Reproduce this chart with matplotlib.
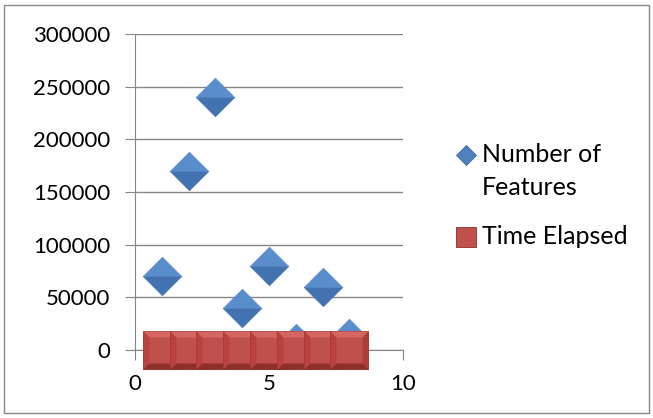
import matplotlib.pyplot as plt
from matplotlib.patches import Rectangle
from matplotlib.lines import Line2D
from matplotlib.path import Path

plt.rcParams['font.family'] = ['Lato', 'DejaVu Sans']

# run index and the two measured series
runs = [1, 2, 3, 4, 5, 6, 7, 8]
num_features = [70000, 170000, 240000, 40000, 80000, 7000, 60000, 11000]
time_elapsed = [60, 120, 180, 90, 110, 40, 100, 50]

blue = '#4F81BD'
red = '#C0504D'
grid = '#868686'

# facet shapes for the bevelled markers (all share the same -1..1 extent)
diamond_top = Path([(-1, 0), (0, 1), (1, 0), (-1, 0)])
diamond_bot = Path([(-1, 0), (0, -1), (1, 0), (-1, 0)])
b = 0.68
sq_top = Path([(-1, 1), (1, 1), (b, b), (-b, b), (-1, 1)])
sq_bot = Path([(-1, -1), (1, -1), (b, -b), (-b, -b), (-1, -1)])
sq_left = Path([(-1, -1), (-1, 1), (-b, b), (-b, -b), (-1, -1)])
sq_right = Path([(1, -1), (1, 1), (b, b), (b, -b), (1, -1)])

fig = plt.figure(figsize=(6.53, 4.18), dpi=100)
ax = fig.add_axes([135 / 653, 1 - 350 / 418, 268 / 653, 316 / 418])

d_size = 28 ** 2
for x, y in zip(runs, num_features):
    ax.scatter([x], [y], marker=diamond_top, s=d_size, color='#5A8DCC',
               edgecolor='#5A8DCC', linewidth=0.3, zorder=3, clip_on=False)
    ax.scatter([x], [y], marker=diamond_bot, s=d_size, color='#4273B0',
               edgecolor='#4273B0', linewidth=0.3, zorder=3, clip_on=False)

s_size = 27.5 ** 2
for x, y in zip(runs, time_elapsed):
    ax.scatter([x], [y], marker='s', s=s_size, color=red, edgecolor='#8C2B28',
               linewidth=0.6, zorder=4, clip_on=False)
    ax.scatter([x], [y], marker=sq_top, s=s_size, color='#D46663',
               linewidth=0, zorder=4, clip_on=False)
    ax.scatter([x], [y], marker=sq_left, s=s_size, color='#B8423F',
               linewidth=0, zorder=4, clip_on=False)
    ax.scatter([x], [y], marker=sq_right, s=s_size, color='#AE3C39',
               linewidth=0, zorder=4, clip_on=False)
    ax.scatter([x], [y], marker=sq_bot, s=s_size, color='#8F2F2C',
               linewidth=0, zorder=4, clip_on=False)

ax.set_xlim(0, 10)
ax.set_ylim(0, 300000)
ax.set_xticks([0, 5, 10])
ax.set_yticks(range(0, 300001, 50000))
ax.yaxis.grid(True, color=grid, linewidth=1)
ax.set_axisbelow(True)

for side in ('top', 'right'):
    ax.spines[side].set_visible(False)
for side in ('left', 'bottom'):
    ax.spines[side].set_color(grid)
ax.tick_params(axis='both', colors=grid, labelcolor='black', labelsize=16,
               length=7, direction='out')
ax.tick_params(axis='y', pad=11)
ax.tick_params(axis='x', pad=10)

# legend, laid out by hand so the diamond sits beside the first label line
def px(x, y):
    return x / 653, 1 - y / 418

fig.add_artist(Line2D(*zip(px(466, 155)), marker='D', markersize=10.5,
                      markerfacecolor=blue, markeredgecolor='#3A6AA5',
                      markeredgewidth=0.6, linestyle='none'))
fig.add_artist(Line2D(*zip(px(466, 237)), marker='s', markersize=14,
                      markerfacecolor=red, markeredgecolor='#8C2B28',
                      markeredgewidth=0.6, linestyle='none'))
fig.text(*px(482, 171), 'Number of\nFeatures', fontsize=18, va='center',
         linespacing=1.5)
fig.text(*px(482, 237), 'Time Elapsed', fontsize=18, va='center')

# chart border
fig.patches.append(Rectangle((4 / 653, 5 / 418), 645 / 653, 408 / 418,
                             transform=fig.transFigure, fill=False,
                             edgecolor='#888888', linewidth=1))

fig.savefig('out.png', dpi=100)
